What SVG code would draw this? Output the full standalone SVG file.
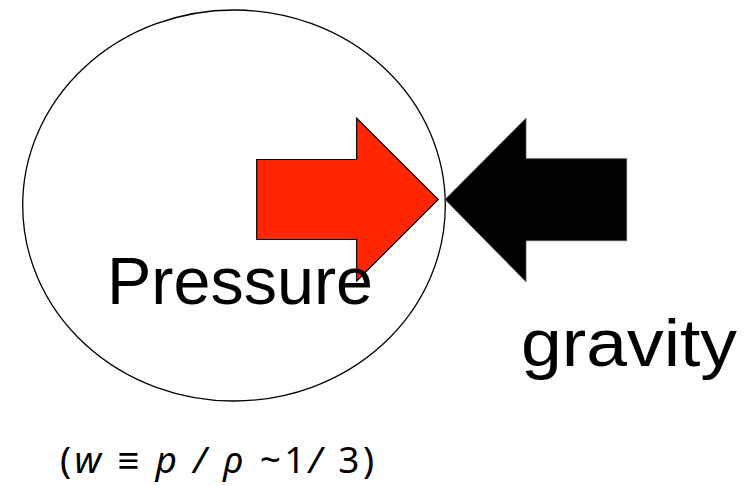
<svg xmlns="http://www.w3.org/2000/svg" width="753" height="486" viewBox="0 0 753 486">
<style>
.big{font-family:"Liberation Sans",Arial,sans-serif;font-size:66px;fill:#000}
.eq{font-family:"Noto Sans","Liberation Sans",sans-serif;font-size:37px;fill:#000}
.it{font-style:italic}
</style>
<rect width="753" height="486" fill="#fff"/>
<g id="bubble">
<ellipse cx="234" cy="205.5" rx="211.3" ry="195.5" fill="none" stroke="#000" stroke-width="1.3"/>
</g>
<g id="pressure-arrow">
<polygon points="256.7,159.5 356.7,159.5 356.7,118.3 438.3,199.5 356.7,281 356.7,239.5 256.7,239.5" fill="#FF2600" stroke="#000" stroke-width="1.2"/>
</g>
<g id="gravity-arrow">
<polygon points="626.7,158.7 526,158.7 526,118.3 445,199.5 526,281.7 526,240.7 626.7,240.7" fill="#000" stroke="#555" stroke-width="0.8"/>
</g>
<g id="labels">
<text class="big" x="107" y="304" textLength="266" lengthAdjust="spacingAndGlyphs">Pressure</text>
<text class="big" x="521" y="366" textLength="216" lengthAdjust="spacingAndGlyphs">gravity</text>
<text class="eq" x="60" y="473" textLength="314" lengthAdjust="spacing">(<tspan class="it">w</tspan> ≡ <tspan class="it">p</tspan> <tspan class="it">/</tspan> <tspan class="it">ρ</tspan> ~1<tspan class="it">/</tspan> 3)</text>
</g>
</svg>
